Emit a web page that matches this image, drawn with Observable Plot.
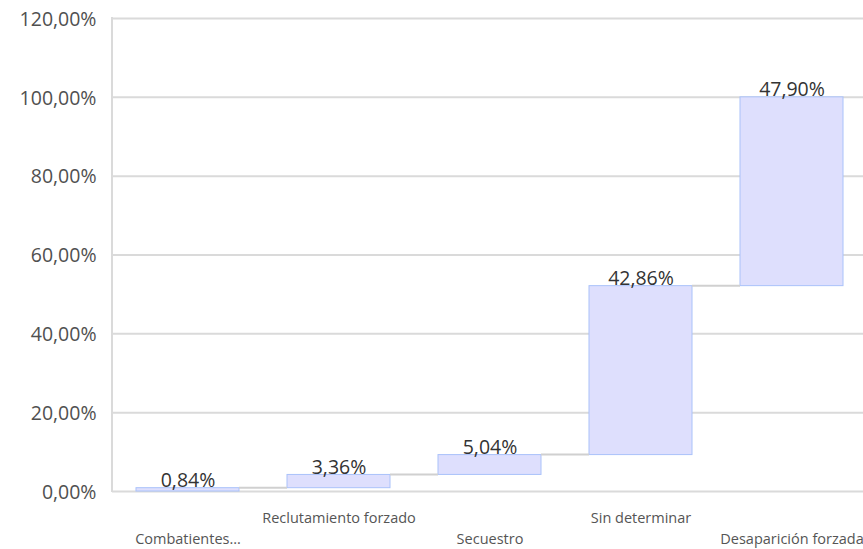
<!DOCTYPE html>
<html><head><meta charset="utf-8">
<script src="https://cdn.jsdelivr.net/npm/d3@7"></script>
<script src="https://cdn.jsdelivr.net/npm/@observablehq/plot@0.6"></script>
<style>body{margin:0;background:#fff;overflow:hidden}</style>
</head><body><div id="chart"></div>
<script>
const categories = ["Combatientes...", "Reclutamiento forzado", "Secuestro", "Sin determinar", "Desaparición forzada"];
const values = [0.84, 3.36, 5.04, 42.86, 47.90];
const yTicks = [0, 20, 40, 60, 80, 100, 120];

const locale = d3.formatLocale({decimal: ",", thousands: ".", grouping: [3], currency: ["", "€"]});
const fmt2 = locale.format(".2f");
const pct = v => fmt2(v) + "%";

let acc = 0;
const data = categories.map((c, i) => {
  const start = acc; acc = +(acc + values[i]).toFixed(2);
  return {category: c, value: values[i], start, end: acc, i};
});
const links = data.slice(0, -1).map((d, i) => ({from: d.category, to: data[i + 1].category, level: d.end}));

const FONT = "'Open Sans', sans-serif";
const W = 863, H = 549;

const plot = Plot.plot({
  width: W, height: H,
  marginLeft: 112, marginRight: 0, marginTop: 18, marginBottom: 58,
  style: {fontFamily: FONT, background: "#fff", overflow: "hidden"},
  x: {type: "band", domain: categories, range: [112, 866], paddingInner: 0.32, paddingOuter: 0.156, axis: null},
  y: {domain: [0, 120], axis: null},
  marks: [
    Plot.ruleY(yTicks, {stroke: "#dadada", strokeWidth: 2}),
    Plot.rectY(data, {x: "category", y1: "start", y2: "end", fill: "#dedffd", stroke: "#aac2fa", strokeWidth: 1}),
    Plot.text(data, {x: "category", y: "end", text: d => pct(d.value), lineAnchor: "bottom", dy: -1, fontSize: 19.5, fill: "#333"}),
    Plot.text(yTicks, {y: d => d, text: d => pct(d), frameAnchor: "left", textAnchor: "end", dx: -16, dy: 1, fontSize: 19.5, fill: "#505050"}),
    Plot.text(data.filter(d => d.i % 2 === 1), {x: "category", text: "category", frameAnchor: "bottom", dy: 31, fontSize: 14.5, fill: "#555"}),
    Plot.text(data.filter(d => d.i % 2 === 0), {x: "category", text: "category", frameAnchor: "bottom", dy: 52, fontSize: 14.5, fill: "#555"})
  ]
});

// connectors and left axis line, placed via the plot's own scales
const xs = plot.scale("x"), ys = plot.scale("y");
const svg = d3.select(plot);
const g = svg.append("g");
g.selectAll("line").data(links).join("line")
  .attr("x1", d => xs.apply(d.from) + xs.bandwidth)
  .attr("x2", d => xs.apply(d.to))
  .attr("y1", d => ys.apply(d.level)).attr("y2", d => ys.apply(d.level))
  .attr("stroke", "#d0d0d0").attr("stroke-width", 2);
svg.append("line")
  .attr("x1", 112).attr("x2", 112)
  .attr("y1", ys.apply(yTicks[yTicks.length - 1]) - 1).attr("y2", ys.apply(0) + 1)
  .attr("stroke", "#dadada").attr("stroke-width", 2);

document.getElementById("chart").append(plot);
</script></body></html>
